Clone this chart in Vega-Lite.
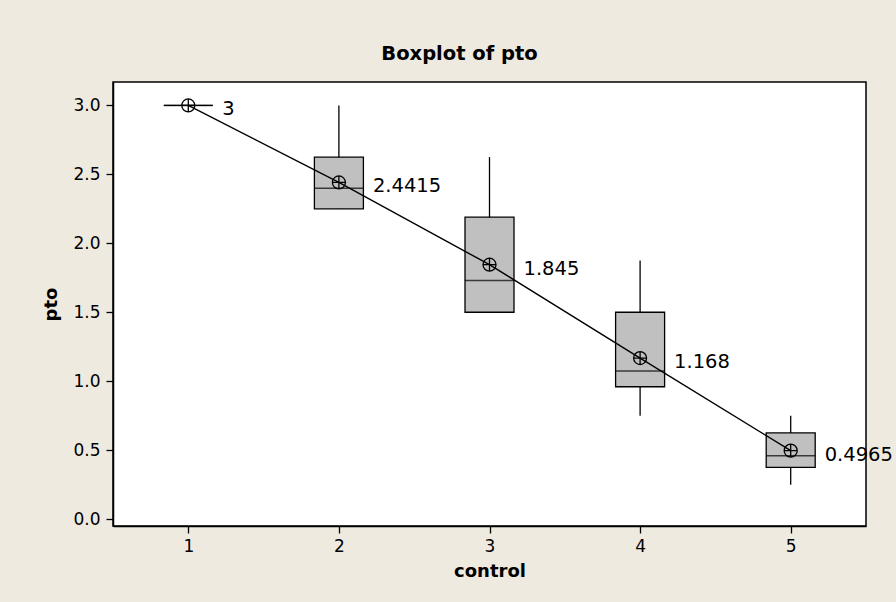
{
  "$schema": "https://vega.github.io/schema/vega-lite/v6.json",
  "width": 753,
  "height": 444,
  "autosize": {"type": "none"},
  "padding": {"left": 113, "top": 82, "right": 30, "bottom": 76},
  "background": "#eeeae0",
  "title": {
    "text": "Boxplot of pto",
    "font": "DejaVu Sans",
    "fontSize": 19.5,
    "fontWeight": "bold",
    "color": "black",
    "anchor": "middle",
    "frame": "group",
    "dx": -30,
    "offset": 18
  },
  "data": {
    "values": [
      {"control": 1, "min": 3, "q1": 3, "median": 3, "q3": 3, "max": 3, "mean": 3},
      {"control": 2, "min": 2.25, "q1": 2.25, "median": 2.4, "q3": 2.625, "max": 3, "mean": 2.4415},
      {"control": 3, "min": 1.5, "q1": 1.5, "median": 1.73, "q3": 2.19, "max": 2.625, "mean": 1.845},
      {"control": 4, "min": 0.75, "q1": 0.96, "median": 1.075, "q3": 1.5, "max": 1.875, "mean": 1.168},
      {"control": 5, "min": 0.25, "q1": 0.375, "median": 0.46, "q3": 0.625, "max": 0.75, "mean": 0.4965}
    ]
  },
  "encoding": {
    "x": {
      "field": "control",
      "type": "quantitative",
      "scale": {"domain": [0.5, 5.5], "nice": false, "zero": false, "padding": 0},
      "axis": {"values": [1, 2, 3, 4, 5], "format": "d", "title": "control", "titlePadding": 8, "labelPadding": 5}
    }
  },
  "layer": [
    {
      "mark": {"type": "rule", "color": "black", "strokeWidth": 1.3},
      "encoding": {
        "y": {
          "field": "min",
          "type": "quantitative",
          "scale": {"domain": [-0.05, 3.17], "nice": false, "zero": false, "padding": 0},
          "axis": {"values": [0, 0.5, 1, 1.5, 2, 2.5, 3], "format": ".1f", "title": "pto", "titlePadding": 12, "labelPadding": 6}
        },
        "y2": {"field": "max"}
      }
    },
    {
      "mark": {"type": "bar", "size": 49, "fill": "#c0c0c0", "stroke": "black", "strokeWidth": 1.3},
      "encoding": {
        "y": {"field": "q1", "type": "quantitative"},
        "y2": {"field": "q3"}
      }
    },
    {
      "mark": {"type": "tick", "orient": "horizontal", "size": 49, "thickness": 1.5, "color": "black"},
      "encoding": {
        "y": {"field": "median", "type": "quantitative"}
      }
    },
    {
      "mark": {"type": "line", "color": "black", "strokeWidth": 1.4},
      "encoding": {
        "y": {"field": "mean", "type": "quantitative"}
      }
    },
    {
      "mark": {
        "type": "point",
        "shape": "M-1,0A1,1 0 1,1 1,0A1,1 0 1,1 -1,0ZM-1,0L1,0M0,-1L0,1",
        "size": 169,
        "filled": false,
        "stroke": "black",
        "strokeWidth": 1.3,
        "opacity": 1
      },
      "encoding": {
        "y": {"field": "mean", "type": "quantitative"}
      }
    },
    {
      "mark": {"type": "text", "align": "left", "baseline": "middle", "dx": 34, "dy": 4, "font": "DejaVu Sans", "fontSize": 19.5, "color": "black"},
      "encoding": {
        "y": {"field": "mean", "type": "quantitative"},
        "text": {"field": "mean", "type": "nominal"}
      }
    }
  ],
  "config": {
    "view": {"fill": "white", "stroke": "black", "strokeWidth": 1.5},
    "axis": {
      "grid": false,
      "domainColor": "black",
      "domainWidth": 1.5,
      "tickColor": "black",
      "tickSize": 7,
      "tickWidth": 1.3,
      "labelColor": "black",
      "labelFont": "DejaVu Sans",
      "labelFontSize": 17,
      "titleColor": "black",
      "titleFont": "DejaVu Sans",
      "titleFontSize": 18,
      "titleFontWeight": "bold"
    }
  }
}
